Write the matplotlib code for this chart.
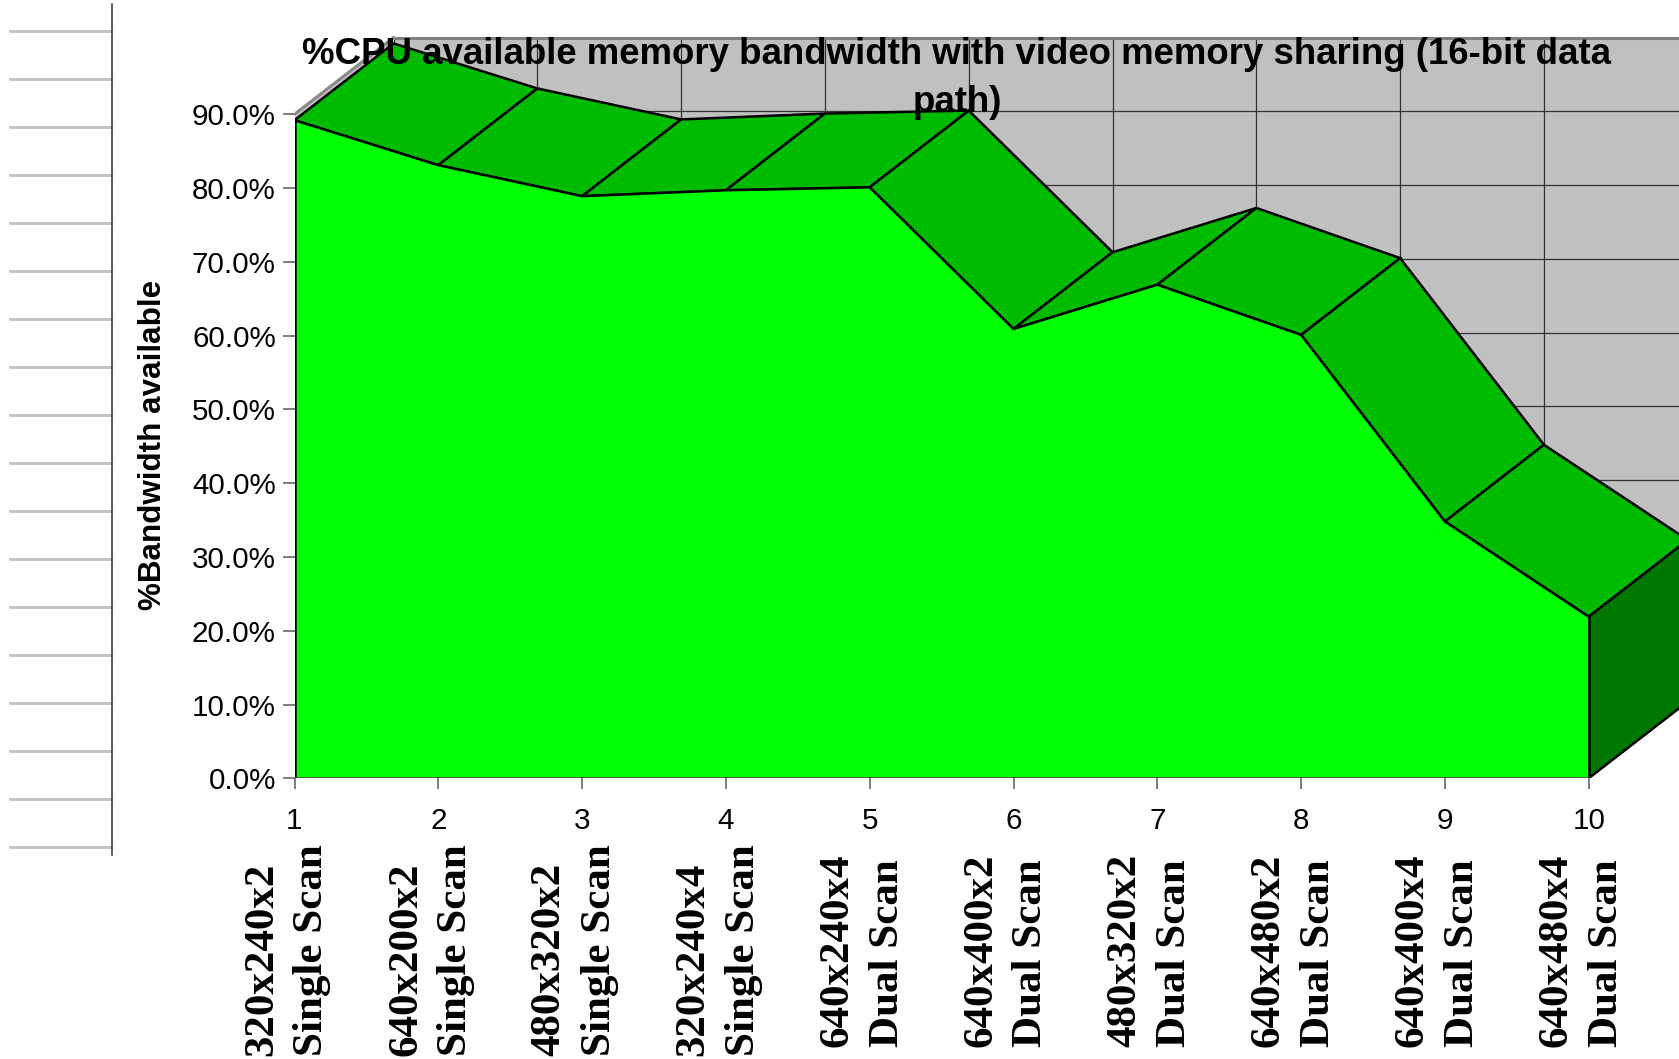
import matplotlib
matplotlib.use("Agg")
import matplotlib.pyplot as plt
from matplotlib.patches import Polygon
from matplotlib.lines import Line2D
from matplotlib.transforms import blended_transform_factory

# ---- data ----
categories = [
    "320x240x2\nSingle Scan", "640x200x2\nSingle Scan", "480x320x2\nSingle Scan",
    "320x240x4\nSingle Scan", "640x240x4\nDual Scan", "640x400x2\nDual Scan",
    "480x320x2\nDual Scan", "640x480x2\nDual Scan", "640x400x4\nDual Scan",
    "640x480x4\nDual Scan",
]
bandwidth_pct = [89.2, 83.1, 78.9, 79.7, 80.1, 60.9, 66.9, 60.1, 34.8, 21.9]
x_positions = list(range(1, 11))
x_tick_labels = [str(i) for i in x_positions]
y_ticks = list(range(0, 100, 10))
y_tick_labels = [f"{v:.1f}%" for v in y_ticks]

title = "%CPU available memory bandwidth with video memory sharing (16-bit data\npath)"
y_label = "%Bandwidth available"

plt.rcParams["font.family"] = ["Liberation Sans", "DejaVu Sans"]

W, H = 1679, 1059
fig = plt.figure(figsize=(W / 100, H / 100), dpi=100)
fig.patch.set_facecolor("white")

# plot area layout (pixels)
x0_px, step_px = 294.5, 143.8
y0_px, pct_px = 778.3, 7.378
ax = fig.add_axes([x0_px / W, 1 - y0_px / H, 1 - x0_px / W, y0_px / H])
ax.set_xlim(1, 1 + (W - x0_px) / step_px)
ax.set_ylim(0, y0_px / pct_px)
ax.patch.set_visible(False)
for s in ax.spines.values():
    s.set_visible(False)

# depth of the 3-D extrusion in data units
DX, DY = 0.689, 10.4
ymax = y_ticks[-1]
xr = 12

# back wall
ax.add_patch(Polygon([(1 + DX, DY), (xr, DY), (xr, ymax + DY), (1 + DX, ymax + DY)],
                     closed=True, facecolor="#c0c0c0", edgecolor="none", zorder=1))
for v in y_ticks[:-1]:
    ax.plot([1 + DX, xr], [v + DY, v + DY], color="#333333", lw=0.9, zorder=2)
for x in x_positions:
    ax.plot([x + DX, x + DX], [DY, ymax + DY], color="#333333", lw=0.9, zorder=2)
ax.plot([1 + DX, xr], [ymax + DY, ymax + DY], color="#808080", lw=2.2, zorder=2)

# left side wall
ax.add_patch(Polygon([(1, 0), (1, ymax), (1 + DX, ymax + DY), (1 + DX, DY)],
                     closed=True, facecolor="#c0c0c0", edgecolor="none", zorder=3))
ax.plot([1, 1 + DX], [ymax, ymax + DY], color="#8a8a8a", lw=2.2, zorder=3)

# top faces of the extruded area
for i in range(len(x_positions) - 1):
    xa, xb = x_positions[i], x_positions[i + 1]
    va, vb = bandwidth_pct[i], bandwidth_pct[i + 1]
    ax.add_patch(Polygon([(xa, va), (xb, vb), (xb + DX, vb + DY), (xa + DX, va + DY)],
                         closed=True, facecolor="#00bb00", edgecolor="black",
                         lw=1.8, joinstyle="miter", zorder=4))

# right end face
xe, ve = x_positions[-1], bandwidth_pct[-1]
ax.add_patch(Polygon([(xe, 0), (xe, ve), (xe + DX, ve + DY), (xe + DX, DY)],
                     closed=True, facecolor="#007800", edgecolor="black",
                     lw=1.8, joinstyle="miter", zorder=4))

# front face
front = [(x_positions[0], 0)] + list(zip(x_positions, bandwidth_pct)) + [(x_positions[-1], 0)]
ax.add_patch(Polygon(front, closed=True, facecolor="#00ff00", edgecolor="none", zorder=5))
ax.plot(x_positions, bandwidth_pct, color="black", lw=1.8, zorder=6, solid_joinstyle="miter")
ax.plot([x_positions[0]] * 2, [0, bandwidth_pct[0]], color="black", lw=1.8, zorder=6)
ax.plot([x_positions[-1]] * 2, [0, bandwidth_pct[-1]], color="black", lw=1.8, zorder=6)
ax.plot([x_positions[0], x_positions[-1]], [0, 0], color="#505050", lw=1.3, zorder=6)

# axes ticks
ax.set_xticks(x_positions)
ax.set_xticklabels(x_tick_labels)
ax.set_yticks(y_ticks)
ax.set_yticklabels(y_tick_labels)
ax.tick_params(axis="x", direction="out", length=8, width=1.1, color="#5a5a5a",
               pad=12.5, labelsize=21.3)
ax.tick_params(axis="y", direction="out", length=8.5, width=1.1, color="#5a5a5a",
               pad=5, labelsize=21.3)

# category labels under the tick numbers
trans = blended_transform_factory(ax.transData, fig.transFigure)
for x, lab in zip(x_positions, categories):
    ax.text(x - 0.05, 0.1029, lab, transform=trans, rotation=90, ha="center",
            va="center", multialignment="left", family="Liberation Serif",
            fontweight="bold", fontsize=31, linespacing=1.42, clip_on=False)

# axis title and chart title
fig.text(153 / W, 1 - 445 / H, y_label, rotation=90, ha="center", va="center",
         fontweight="bold", fontsize=22.6)
fig.text(957 / W, 0.9655, title, ha="center", va="top", multialignment="center",
         fontweight="bold", fontsize=26.4, linespacing=1.5, zorder=10)

# depth-axis rulings at the left margin
for k in range(18):
    yy = 1 - (31 + 48 * k) / H
    fig.add_artist(Line2D([10 / W, 111 / W], [yy, yy], color="#c0c0c0", lw=2))
fig.add_artist(Line2D([111.7 / W, 111.7 / W], [1 - 4 / H, 1 - 855 / H],
                      color="#333333", lw=1.1))

fig.savefig("out.png", dpi=100, facecolor="white")
